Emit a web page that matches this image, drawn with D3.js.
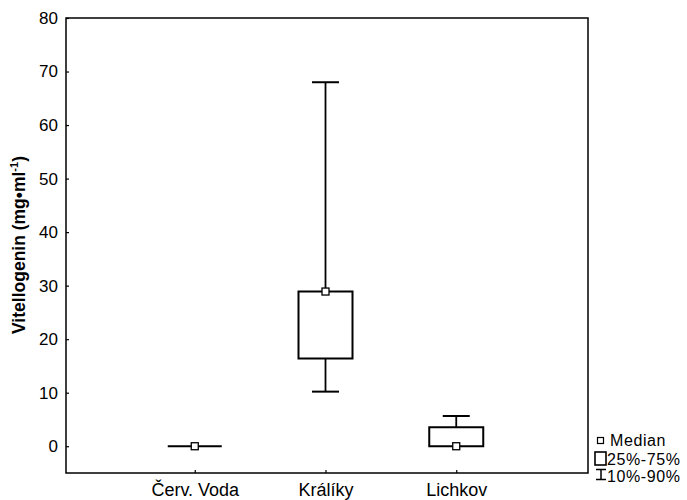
<!DOCTYPE html>
<html><head><meta charset="utf-8">
<script src="https://cdn.jsdelivr.net/npm/d3@7/dist/d3.min.js"></script>
<style>body{margin:0;background:#fff;} svg{display:block;font-family:"Liberation Sans",Arial,Helvetica,sans-serif;}</style>
</head><body>
<script>
const categories = ["Červ. Voda", "Králíky", "Lichkov"];
const p10    = [0,    10.2, 0];
const q25    = [0,    16.4, 0];
const median = [0,    28.9, 0];
const q75    = [0,    28.9, 3.55];
const p90    = [0,    68,   5.65];
const yTicks = [0, 10, 20, 30, 40, 50, 60, 70, 80];
const legendLabels = ["Median", "25%-75%", "10%-90%"];

const W = 687, H = 500;
const mLeft = 66, mRight = 588, mTop = 18, mBottom = 473;
const svg = d3.select("body").append("svg").attr("width", W).attr("height", H);

const x = d3.scalePoint().domain(categories).range([64, 587]).padding(1);
const y = d3.scaleLinear().domain([-5, 80]).range([mBottom, mTop]);

// frame
svg.append("rect").attr("x", mLeft).attr("y", mTop).attr("width", mRight-mLeft).attr("height", mBottom-mTop)
  .attr("fill", "none").attr("stroke", "#000").attr("stroke-width", 1.5);

// y axis
const yAxis = d3.axisLeft(y).tickValues(yTicks).tickSize(-3).tickPadding(8);
const gy = svg.append("g").attr("transform", `translate(${mLeft},0)`).call(yAxis);
gy.select(".domain").remove();
gy.selectAll("line").attr("stroke", "#000").attr("stroke-width", 1.2);
gy.selectAll("text").attr("font-size", 17).attr("fill", "#000").attr("font-family", "Liberation Sans, Arial, sans-serif");

// x axis
const xAxis = d3.axisBottom(x).tickSize(-3).tickPadding(10);
const gx = svg.append("g").attr("transform", `translate(0,${mBottom})`).call(xAxis);
gx.select(".domain").remove();
gx.selectAll("line").attr("stroke", "#000").attr("stroke-width", 1.2);
gx.selectAll("text").attr("font-size", 18).attr("fill", "#000").attr("font-family", "Liberation Sans, Arial, sans-serif");

// y label
const yl = svg.append("text").attr("transform", "translate(25,245) rotate(-90)")
  .attr("text-anchor", "middle").attr("font-size", 17.5).attr("font-weight", "bold").attr("fill", "#000");
yl.append("tspan").text("Vitellogenin (mg\u2022ml");
yl.append("tspan").attr("font-size", 11).attr("dy", -7).text("-1");
yl.append("tspan").attr("dy", 7).text(")");

// boxes
const boxW = 54, capW = 27, medS = 7;
const g = svg.append("g");
categories.forEach((c, i) => {
  const cx = x(c);
  g.append("line").attr("x1", cx).attr("x2", cx).attr("y1", y(q75[i])).attr("y2", y(p90[i]))
    .attr("stroke", "#000").attr("stroke-width", 1.8);
  g.append("line").attr("x1", cx).attr("x2", cx).attr("y1", y(q25[i])).attr("y2", y(p10[i]))
    .attr("stroke", "#000").attr("stroke-width", 1.8);
  if (p90[i] !== q75[i]) g.append("line").attr("x1", cx-capW/2).attr("x2", cx+capW/2).attr("y1", y(p90[i])).attr("y2", y(p90[i]))
    .attr("stroke", "#000").attr("stroke-width", 2);
  if (p10[i] !== q25[i]) g.append("line").attr("x1", cx-capW/2).attr("x2", cx+capW/2).attr("y1", y(p10[i])).attr("y2", y(p10[i]))
    .attr("stroke", "#000").attr("stroke-width", 2);
  const x0 = cx-boxW/2, x1 = cx+boxW/2, yt = y(q75[i]), yb = y(q25[i]);
  g.append("path").attr("d", `M${x0},${yt}H${x1}V${yb}H${x0}Z`)
    .attr("fill", "#fff").attr("stroke", "#000").attr("stroke-width", 2);
  g.append("rect").attr("x", cx-medS/2).attr("y", y(median[i])-medS/2).attr("width", medS).attr("height", medS)
    .attr("fill", "#fff").attr("stroke", "#000").attr("stroke-width", 1.3);
});

// legend
const lg = svg.append("g").attr("font-size", 16).attr("letter-spacing", 0.6).attr("fill", "#000");
lg.append("rect").attr("x", 597.5).attr("y", 437.5).attr("width", 6).attr("height", 6)
  .attr("fill", "#fff").attr("stroke", "#000").attr("stroke-width", 1.2);
lg.append("text").attr("x", 610).attr("y", 446).text(legendLabels[0]);
lg.append("rect").attr("x", 595).attr("y", 452).attr("width", 11).attr("height", 13)
  .attr("fill", "#fff").attr("stroke", "#000").attr("stroke-width", 1.6);
lg.append("text").attr("x", 607).attr("y", 465).text(legendLabels[1]);
lg.append("path").attr("d", "M596,469.5H606M601,469.5V479.5M596,479.5H606")
  .attr("fill", "none").attr("stroke", "#000").attr("stroke-width", 1.5);
lg.append("text").attr("x", 607).attr("y", 482).text(legendLabels[2]);
</script>
</body></html>
